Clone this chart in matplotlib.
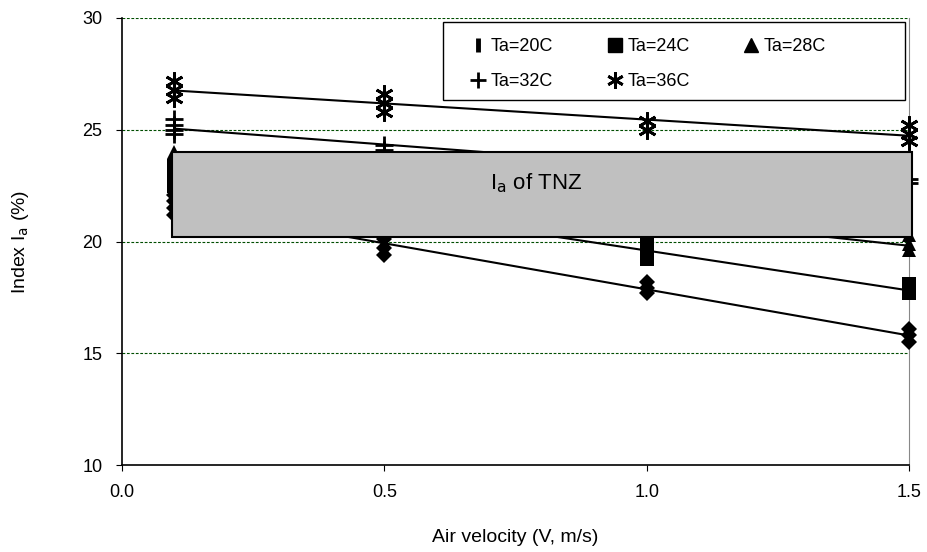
import numpy as np
import matplotlib
matplotlib.use("Agg")
import matplotlib.pyplot as plt
from matplotlib.lines import Line2D
from matplotlib.patches import Rectangle

plt.rcParams['font.family'] = ['Liberation Sans', 'DejaVu Sans']

# Data (air velocity, index Ia %)
v_20 = [0.1, 0.1, 0.1, 0.1, 0.5, 0.5, 0.5, 1.0, 1.0, 1.0, 1.5, 1.5, 1.5]
ia_20 = [21.2, 21.5, 21.8, 22.1, 20.1, 19.7, 19.4, 18.2, 17.9, 17.7, 16.1, 15.8, 15.5]

v_24 = [0.1, 0.1, 0.1, 0.5, 0.5, 1.0, 1.0, 1.0, 1.5, 1.5]
ia_24 = [22.5, 23.0, 23.4, 21.2, 20.9, 20.0, 19.6, 19.2, 18.1, 17.7]

v_28 = [0.1, 0.1, 0.1, 0.5, 0.5, 1.0, 1.0, 1.5, 1.5, 1.5]
ia_28 = [23.0, 23.5, 24.0, 22.4, 22.1, 21.0, 20.7, 20.3, 19.9, 19.6]

v_32 = [0.1, 0.1, 0.1, 0.1, 0.5, 0.5, 1.0, 1.0, 1.5, 1.5]
ia_32 = [25.5, 25.2, 25.0, 24.8, 24.3, 24.1, 23.4, 23.2, 22.8, 22.6]

v_36 = [0.1, 0.1, 0.1, 0.5, 0.5, 0.5, 1.0, 1.0, 1.5, 1.5, 1.5]
ia_36 = [27.2, 26.8, 26.4, 26.6, 26.2, 25.8, 25.4, 25.0, 25.2, 24.8, 24.5]

labels = ["Ta=20C", "Ta=24C", "Ta=28C", "Ta=32C", "Ta=36C"]
tnz_low, tnz_high = 20.2, 24.0

fig = plt.figure(figsize=(9.27, 5.52), dpi=100)
ax = fig.add_axes([0.1316, 0.1576, 0.849, 0.8098])

asterisk = (6, 2, 0)
series = [
    (v_20, ia_20, dict(marker='D', ms=8.5, mew=0)),
    (v_24, ia_24, dict(marker='s', ms=9.5, mew=0)),
    (v_28, ia_28, dict(marker='^', ms=9.5, mew=0)),
    (v_32, ia_32, dict(marker='+', ms=13, mew=2)),
    (v_36, ia_36, dict(marker=asterisk, ms=13, mew=2)),
]

#trend lines + points
for xs, ys, style in series:
    k, b = np.polyfit(xs, ys, 1)
    xl = np.array([0.1, 1.5])
    ax.plot(xl, k * xl + b, color='black', lw=1.5, zorder=3)
    ax.plot(xs, ys, ls='none', color='black', zorder=3, clip_on=False, **style)

#thermal neutral zone box
ax.add_patch(Rectangle((0.095, tnz_low), 1.41, tnz_high - tnz_low,
                       facecolor='#c0c0c0', edgecolor='black', lw=1.5,
                       zorder=5, clip_on=False))
ax.text(0.79, 22.6, r"I$_{\mathrm{a}}$ of TNZ", fontsize=16, ha='center',
        va='center', zorder=6)

ax.set_xlim(0, 1.5)
ax.set_ylim(10, 30)
ax.set_xticks([0.0, 0.5, 1.0, 1.5])
ax.set_xticklabels(["0.0", "0.5", "1.0", "1.5"])
ax.set_yticks([10, 15, 20, 25, 30])
for yv in [15, 20, 25, 30]:
    ax.axhline(yv, color='#004d00', ls=(0, (2.5, 1.5)), lw=0.8, zorder=1)
ax.tick_params(labelsize=13, length=4, direction='out', color='black')
ax.tick_params(axis='x', pad=10)
ax.tick_params(axis='y', pad=10)
ax.spines['top'].set_visible(False)
ax.spines['right'].set_color('#888888')
ax.spines['left'].set_linewidth(1.2)
ax.spines['bottom'].set_linewidth(1.2)

ax.set_xlabel("Air velocity (V, m/s)", fontsize=14, labelpad=20)
ax.set_ylabel(r"Index I$_{\mathrm{a}}$ (%)", fontsize=14, labelpad=37)

#legend frame drawn separately (wider side padding than matplotlib's)
ax.add_patch(Rectangle((0.408, 0.8166), 0.587, 0.1744, transform=ax.transAxes,
                       facecolor='white', edgecolor='black', lw=1.0,
                       zorder=9, clip_on=False))

#legend, row-major order
h20 = Line2D([], [], ls='none', marker='|', ms=10, mew=3.5, color='black')
h24 = Line2D([], [], ls='none', marker='s', ms=10, color='black')
h28 = Line2D([], [], ls='none', marker='^', ms=10, color='black')
h32 = Line2D([], [], ls='none', marker='+', ms=12, mew=2, color='black')
h36 = Line2D([], [], ls='none', marker=asterisk, ms=12, mew=2, color='black')
leg = ax.legend([h20, h32, h24, h36, h28],
                [labels[0], labels[3], labels[1], labels[4], labels[2]],
                ncol=3, loc='center', bbox_to_anchor=(0.669, 0.897),
                fontsize=13, frameon=False, handlelength=0.8,
                handletextpad=0.3, columnspacing=3.0, borderpad=0.0,
                labelspacing=1.0, borderaxespad=0.0)
leg.set_zorder(10)

fig.savefig("out.png", dpi=100)
